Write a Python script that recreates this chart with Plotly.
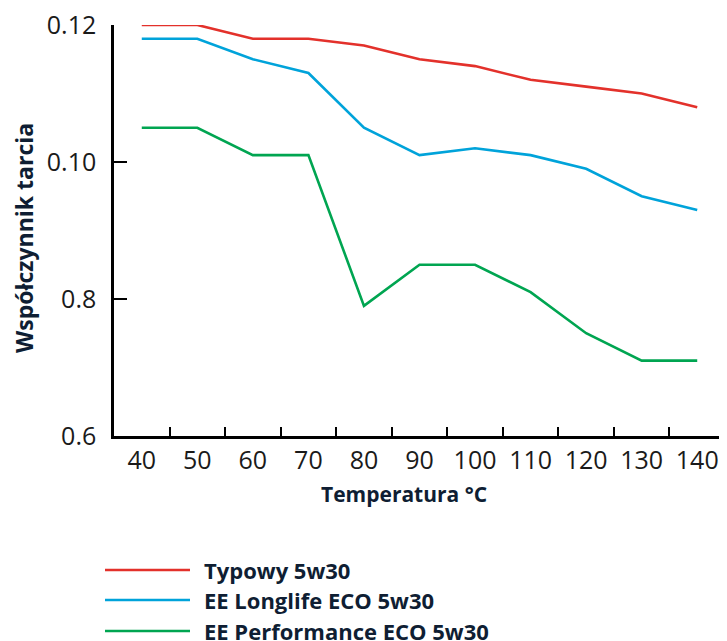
import plotly.graph_objects as go

temps = ["40", "50", "60", "70", "80", "90", "100", "110", "120", "130", "140"]
typowy = [0.120, 0.120, 0.118, 0.118, 0.117, 0.115, 0.114, 0.112, 0.111, 0.110, 0.108]
longlife = [0.118, 0.118, 0.115, 0.113, 0.105, 0.101, 0.102, 0.101, 0.099, 0.095, 0.093]
performance = [0.105, 0.105, 0.101, 0.101, 0.079, 0.085, 0.085, 0.081, 0.075, 0.071, 0.071]
series_names = ["Typowy 5w30", "EE Longlife ECO 5w30", "EE Performance ECO 5w30"]
series_colors = ["#e3312b", "#00a3da", "#00a551"]
y_tickvals = [0.06, 0.08, 0.10, 0.12]
y_ticktext = ["0.6", "0.8", "0.10", "0.12"]

# page offset (body margin) compensation
OFF = 8
W, H = 727 - OFF, 641 - OFF
L, R, T = 114 - OFF, 2, 25 - OFF
pw, ph = 611, 411
B = H - T - ph


def px(x):
    # x in screenshot pixels
    return (x - OFF - L) / pw


def py(y):
    return (T + ph - (y - OFF)) / ph


fig = go.Figure()
for name, vals, col in zip(series_names, [typowy, longlife, performance], series_colors):
    fig.add_trace(go.Scatter(x=temps, y=vals, mode="lines", name=name,
                             line=dict(color=col, width=2.6), cliponaxis=False,
                             showlegend=False))

shapes = []
annotations = []
rows = [570, 600, 631]
for name, col, ry in zip(series_names, series_colors, rows):
    shapes.append(dict(type="line", xref="paper", yref="paper",
                       x0=px(105), x1=px(190), y0=py(ry), y1=py(ry),
                       line=dict(color=col, width=2.6)))
    annotations.append(dict(xref="paper", yref="paper", x=px(202), y=py(ry),
                            text=name, showarrow=False, xanchor="left", yanchor="middle",
                            font=dict(family="Open Sans", size=22, color="#0f1e33",
                                      weight="bold")))

annotations.append(dict(xref="paper", yref="paper", x=px(404), y=py(494),
                        text="Temperatura °C", showarrow=False, xanchor="center",
                        yanchor="middle",
                        font=dict(family="Open Sans", size=21, color="#0f1e33",
                                  weight="bold")))
annotations.append(dict(xref="paper", yref="paper", x=px(24), y=py(238),
                        text="Współczynnik tarcia", showarrow=False, textangle=-90,
                        xanchor="center", yanchor="middle",
                        font=dict(family="Open Sans", size=23, color="#0f1e33",
                                  weight="bold")))

fig.update_layout(
    width=W, height=H,
    margin=dict(l=L, r=R, t=T, b=B, autoexpand=False),
    paper_bgcolor="white", plot_bgcolor="white",
    shapes=shapes, annotations=annotations,
    showlegend=False,
    xaxis=dict(type="category", range=[-0.5, 10.5], showgrid=False, zeroline=False,
               showline=True, linecolor="black", linewidth=2.5, automargin=False,
               ticks="inside", tickson="boundaries", ticklen=9, tickwidth=2,
               tickcolor="black", ticklabeloverflow="allow",
               tickfont=dict(family="Open Sans", size=25, color="#1a1a1a")),
    yaxis=dict(range=[0.06, 0.12], showgrid=False, zeroline=False,
               showline=True, linecolor="black", linewidth=2.5, automargin=False,
               tickvals=y_tickvals, ticktext=y_ticktext,
               ticks="inside", ticklen=13, tickwidth=2, tickcolor="black",
               ticklabelstandoff=10, ticklabeloverflow="allow",
               tickfont=dict(family="Open Sans", size=25, color="#1a1a1a")),
)

fig.write_html("out.html")
